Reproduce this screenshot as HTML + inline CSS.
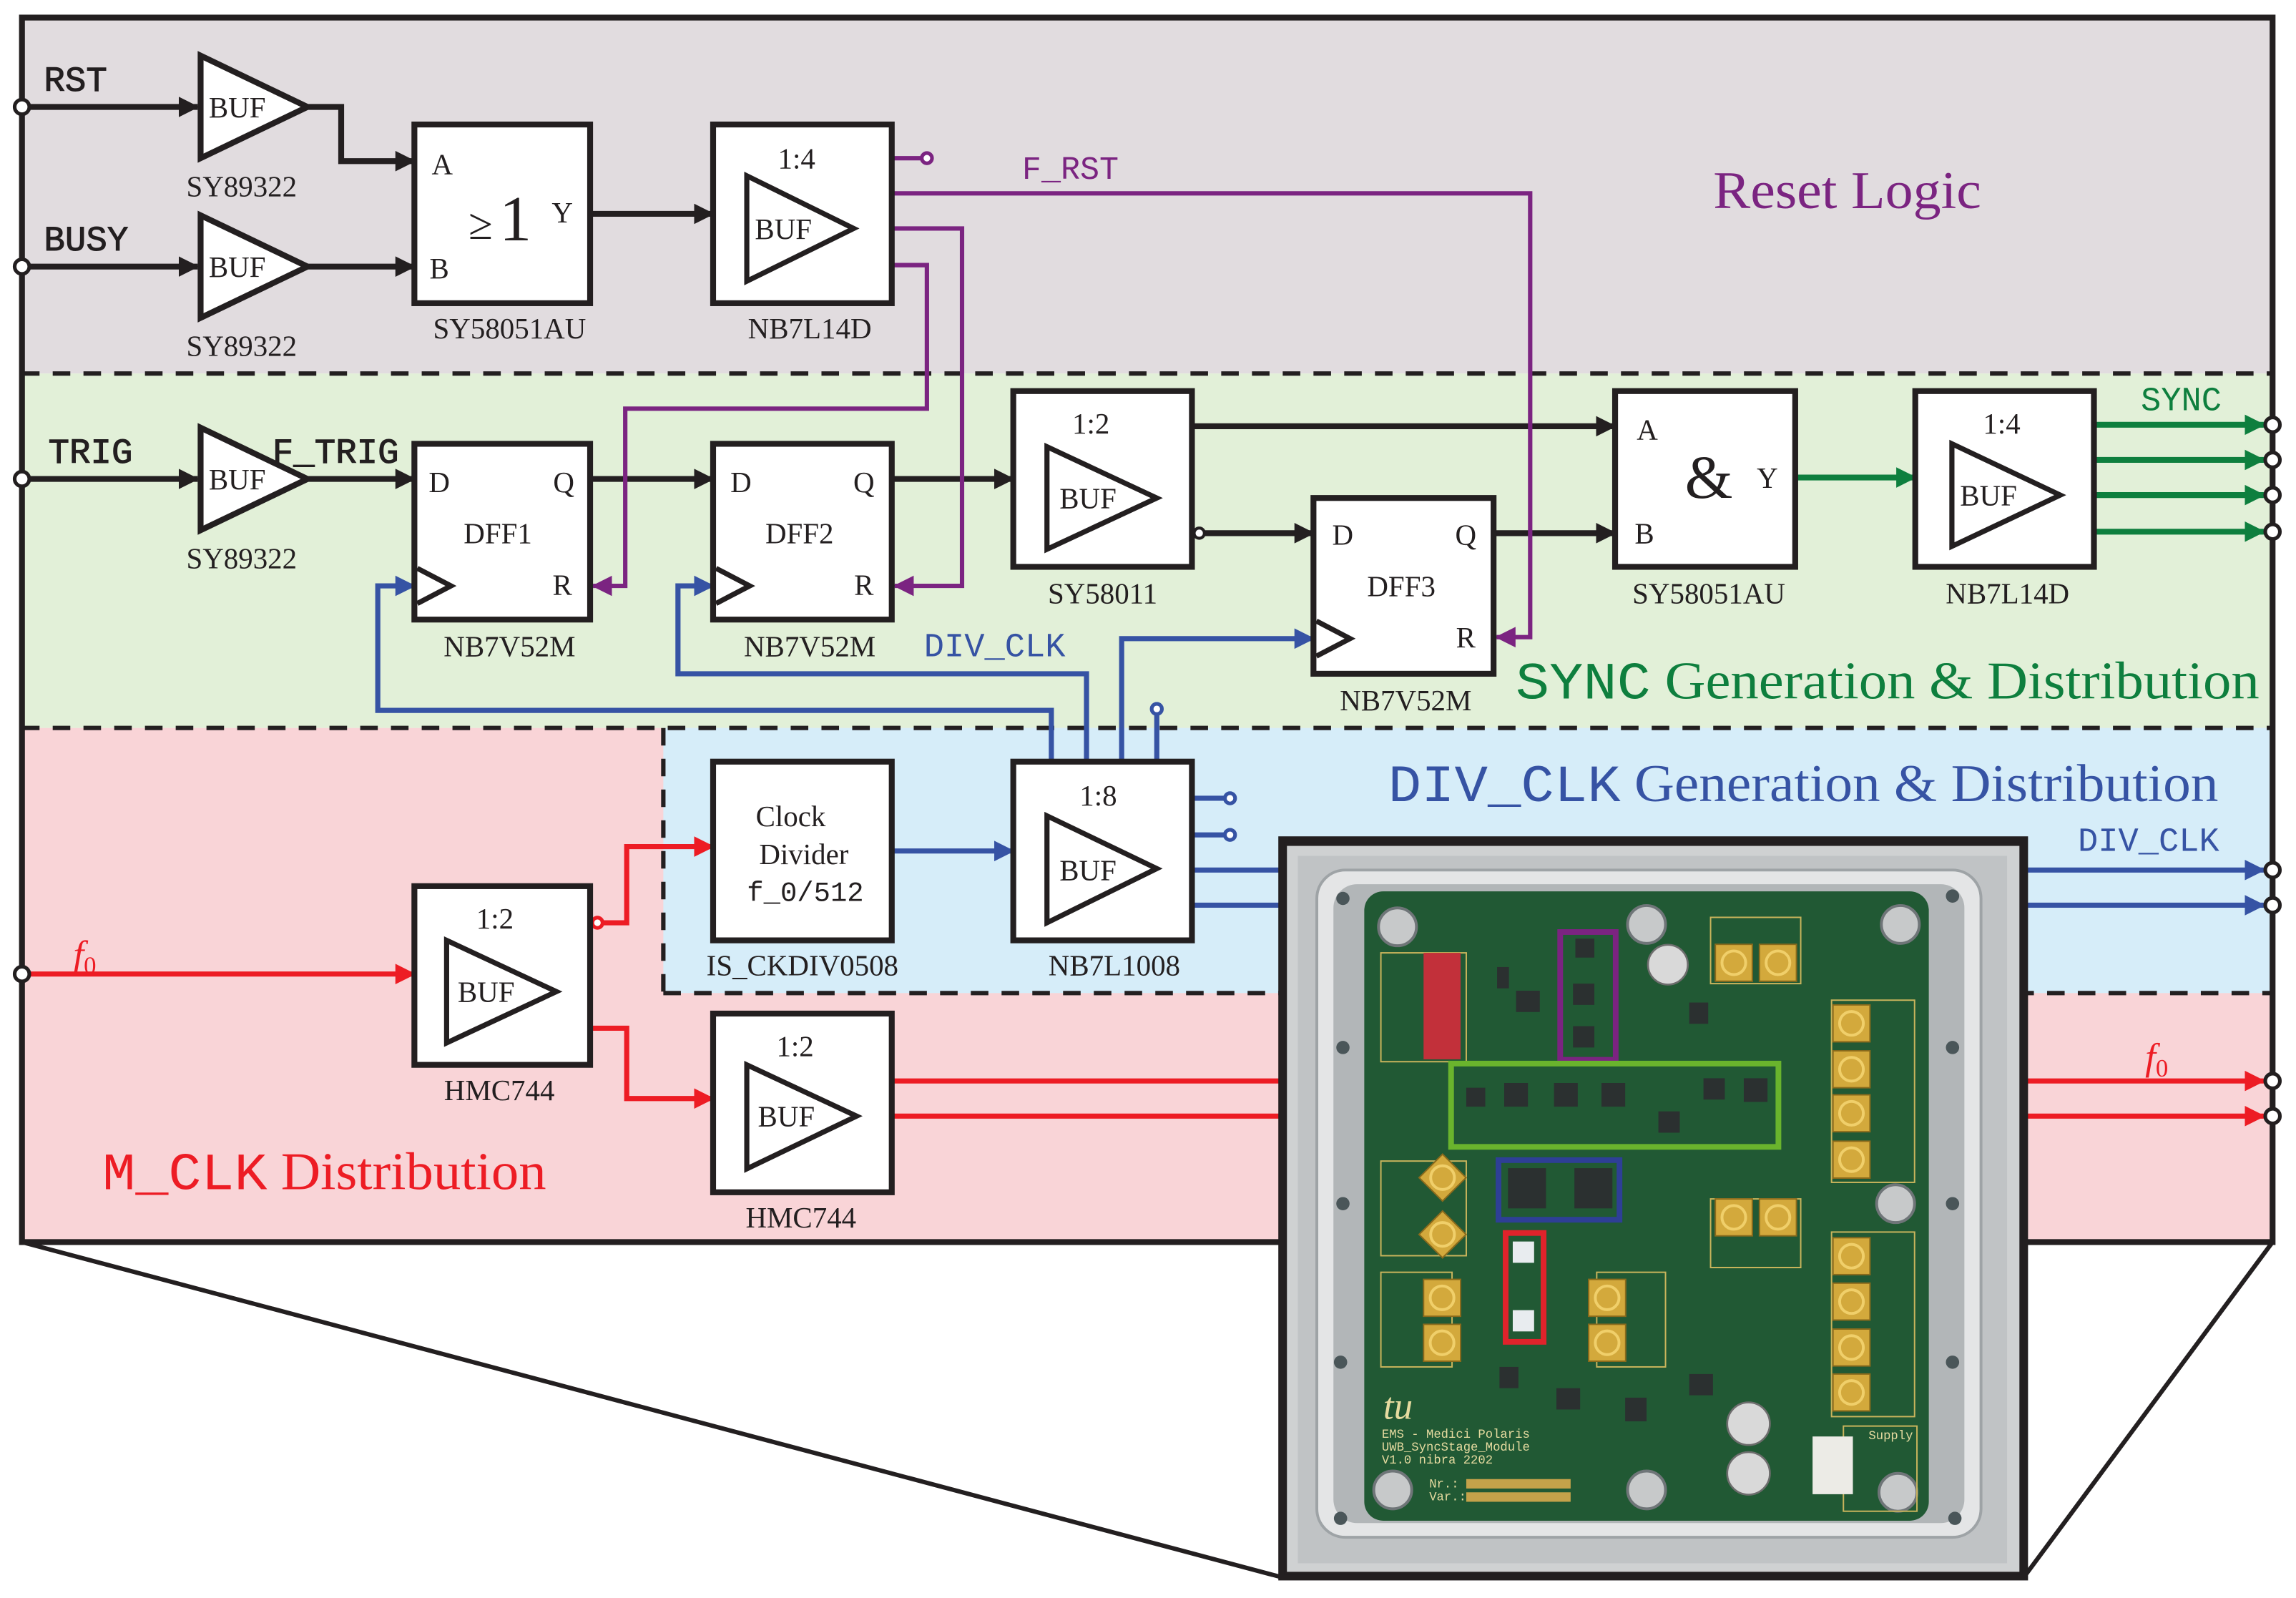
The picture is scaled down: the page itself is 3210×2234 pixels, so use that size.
<!DOCTYPE html>
<html><head><meta charset="utf-8"><style>
html,body{margin:0;padding:0;background:#fff;}
svg{display:block;}
.s{font-family:"Liberation Serif",serif;}
.m{font-family:"Liberation Mono",monospace;}
</style></head><body>
<svg width="3210" height="2234" viewBox="0 0 1568 1091" preserveAspectRatio="none" xmlns="http://www.w3.org/2000/svg">
<defs>
<marker id="ak" markerUnits="userSpaceOnUse" markerWidth="14" markerHeight="14" refX="13" refY="7" orient="auto"><path d="M0,0 L14,7 L0,14 z" fill="#231f20"/></marker>
<marker id="ap" markerUnits="userSpaceOnUse" markerWidth="14" markerHeight="14" refX="13" refY="7" orient="auto"><path d="M0,0 L14,7 L0,14 z" fill="#7b2481"/></marker>
<marker id="ag" markerUnits="userSpaceOnUse" markerWidth="14" markerHeight="14" refX="13" refY="7" orient="auto"><path d="M0,0 L14,7 L0,14 z" fill="#0e7f3e"/></marker>
<marker id="ab" markerUnits="userSpaceOnUse" markerWidth="14" markerHeight="14" refX="13" refY="7" orient="auto"><path d="M0,0 L14,7 L0,14 z" fill="#3653a4"/></marker>
<marker id="ar" markerUnits="userSpaceOnUse" markerWidth="14" markerHeight="14" refX="13" refY="7" orient="auto"><path d="M0,0 L14,7 L0,14 z" fill="#ed1c24"/></marker>
</defs>
<rect x="0" y="0" width="1568" height="1091" fill="#fff"/>
<rect x="15" y="12" width="1537" height="243" fill="#e1dcdf"/>
<rect x="15" y="255" width="1537" height="242" fill="#e2f0d8"/>
<rect x="15" y="497" width="1537" height="351" fill="#f9d4d7"/>
<rect x="453" y="497" width="1099" height="181" fill="#d6edf9"/>
<g stroke="#231f20" stroke-width="3" fill="none">
<line x1="15" y1="255" x2="1552" y2="255" stroke-dasharray="12,9"/>
<line x1="15" y1="497" x2="1552" y2="497" stroke-dasharray="12,9"/>
<line x1="453" y1="678" x2="1552" y2="678" stroke-dasharray="12,9"/>
<line x1="453" y1="497" x2="453" y2="678" stroke-dasharray="12,9"/>
<rect x="15" y="12" width="1537" height="836" stroke-width="4"/>
<line x1="15" y1="848" x2="876" y2="1077" stroke-width="3"/>
<line x1="1552" y1="848" x2="1382" y2="1077" stroke-width="3"/>
</g>

<text x="1170" y="142" class="s" font-size="36" fill="#7b2481" textLength="183" lengthAdjust="spacingAndGlyphs">Reset Logic</text>
<text x="1035" y="477" font-size="36" fill="#0e7f3e" textLength="508" lengthAdjust="spacingAndGlyphs"><tspan class="m">SYNC</tspan><tspan class="s"> Generation &amp; Distribution</tspan></text>
<text x="948" y="547" font-size="36" fill="#3653a4" textLength="567" lengthAdjust="spacingAndGlyphs"><tspan class="m">DIV_CLK</tspan><tspan class="s"> Generation &amp; Distribution</tspan></text>
<text x="70" y="812" font-size="36" fill="#ed1c24" textLength="303" lengthAdjust="spacingAndGlyphs"><tspan class="m">M_CLK</tspan><tspan class="s"> Distribution</tspan></text>

<g stroke="#231f20" stroke-width="4" fill="none">
<line x1="15" y1="73" x2="135" y2="73" marker-end="url(#ak)"/>
<line x1="15" y1="182" x2="135" y2="182" marker-end="url(#ak)"/>
<polyline points="210,73 233,73 233,110 283,110" marker-end="url(#ak)"/>
<line x1="210" y1="182" x2="283" y2="182" marker-end="url(#ak)"/>
<line x1="403" y1="146" x2="487" y2="146" marker-end="url(#ak)"/>
<line x1="15" y1="327" x2="135" y2="327" marker-end="url(#ak)"/>
<line x1="210" y1="327" x2="283" y2="327" marker-end="url(#ak)"/>
<line x1="403" y1="327" x2="487" y2="327" marker-end="url(#ak)"/>
<line x1="609" y1="327" x2="692" y2="327" marker-end="url(#ak)"/>
<line x1="814" y1="291" x2="1103" y2="291" marker-end="url(#ak)"/>
<line x1="822" y1="364" x2="897" y2="364" marker-end="url(#ak)"/>
<line x1="1020" y1="364" x2="1103" y2="364" marker-end="url(#ak)"/>
</g>
<circle cx="819" cy="364" r="3.5" fill="#fff" stroke="#231f20" stroke-width="2"/>

<g stroke="#7b2481" stroke-width="3" fill="none">
<line x1="609" y1="108" x2="630" y2="108"/>
<polyline points="609,132 1045,132 1045,435 1022,435" marker-end="url(#ap)"/>
<polyline points="609,156 657,156 657,400 611,400" marker-end="url(#ap)"/>
<polyline points="609,181 633,181 633,279 427,279 427,400 405,400" marker-end="url(#ap)"/>
</g>
<circle cx="633" cy="108" r="3.5" fill="#fff" stroke="#7b2481" stroke-width="2.5"/>
<text x="698" y="122" class="m" font-size="22" fill="#7b2481">F_RST</text>

<g stroke="#0e7f3e" stroke-width="4" fill="none">
<line x1="1226" y1="326" x2="1308" y2="326" marker-end="url(#ag)"/>
<line x1="1430" y1="290" x2="1546" y2="290" marker-end="url(#ag)"/>
<line x1="1430" y1="314" x2="1546" y2="314" marker-end="url(#ag)"/>
<line x1="1430" y1="338" x2="1546" y2="338" marker-end="url(#ag)"/>
<line x1="1430" y1="363" x2="1546" y2="363" marker-end="url(#ag)"/>
</g>
<text x="1462" y="280" class="m" font-size="23" fill="#0e7f3e">SYNC</text>

<g stroke="#3653a4" stroke-width="3.5" fill="none">
<polyline points="718,520 718,485 258,485 258,400 283,400" marker-end="url(#ab)"/>
<polyline points="742,520 742,460 463,460 463,400 487,400" marker-end="url(#ab)"/>
<polyline points="766,520 766,436 897,436" marker-end="url(#ab)"/>
<line x1="790" y1="520" x2="790" y2="487"/>
<line x1="609" y1="581" x2="692" y2="581" marker-end="url(#ab)"/>
<line x1="814" y1="545" x2="837" y2="545"/>
<line x1="814" y1="570" x2="837" y2="570"/>
<line x1="814" y1="594" x2="876" y2="594"/>
<line x1="814" y1="618" x2="876" y2="618"/>
<line x1="1383" y1="594" x2="1546" y2="594" marker-end="url(#ab)"/>
<line x1="1383" y1="618" x2="1546" y2="618" marker-end="url(#ab)"/>
</g>
<circle cx="790" cy="484" r="3.5" fill="#fff" stroke="#3653a4" stroke-width="2.5"/>
<circle cx="840" cy="545" r="3.5" fill="#fff" stroke="#3653a4" stroke-width="2.5"/>
<circle cx="840" cy="570" r="3.5" fill="#fff" stroke="#3653a4" stroke-width="2.5"/>
<text x="631" y="448" class="m" font-size="23" fill="#3653a4">DIV_CLK</text>
<text x="1419" y="581" class="m" font-size="23" fill="#3653a4">DIV_CLK</text>

<g stroke="#ed1c24" stroke-width="3.5" fill="none">
<line x1="15" y1="665" x2="283" y2="665" marker-end="url(#ar)"/>
<polyline points="411,630 428,630 428,578 487,578" marker-end="url(#ar)"/>
<polyline points="403,702 428,702 428,750 487,750" marker-end="url(#ar)"/>
<line x1="609" y1="738" x2="876" y2="738"/>
<line x1="609" y1="762" x2="876" y2="762"/>
<line x1="1383" y1="738" x2="1546" y2="738" marker-end="url(#ar)"/>
<line x1="1383" y1="762" x2="1546" y2="762" marker-end="url(#ar)"/>
</g>
<circle cx="408" cy="630" r="3.5" fill="#fff" stroke="#ed1c24" stroke-width="2.5"/>
<text x="50" y="660" class="s" font-size="26" font-style="italic" fill="#ed1c24">f<tspan font-size="17" dy="5" font-style="normal">0</tspan></text>
<text x="1465" y="730" class="s" font-size="26" font-style="italic" fill="#ed1c24">f<tspan font-size="17" dy="5" font-style="normal">0</tspan></text>

<g fill="#fff" stroke="#231f20" stroke-width="2.5">
<circle cx="15" cy="73" r="5"/><circle cx="15" cy="182" r="5"/><circle cx="15" cy="327" r="5"/><circle cx="15" cy="665" r="5"/>
<circle cx="1552" cy="290" r="5"/><circle cx="1552" cy="314" r="5"/><circle cx="1552" cy="338" r="5"/><circle cx="1552" cy="363" r="5"/>
<circle cx="1552" cy="594" r="5"/><circle cx="1552" cy="618" r="5"/><circle cx="1552" cy="738" r="5"/><circle cx="1552" cy="762" r="5"/>
</g>

<g class="m" font-size="24" fill="#231f20" stroke="#231f20" stroke-width="0.5">
<text x="30" y="62">RST</text>
<text x="30" y="171">BUSY</text>
<text x="33" y="316">TRIG</text>
<text x="186" y="316">F_TRIG</text>
</g>

<g stroke="#231f20" stroke-width="4" fill="#fff" stroke-linejoin="miter">
<polygon points="137,38 137,108 210,73"/>
<polygon points="137,147 137,217 210,182"/>
<polygon points="137,292 137,362 210,327"/>
<rect x="283" y="85" width="120" height="122"/>
<rect x="487" y="85" width="122" height="122"/>
<rect x="283" y="303" width="120" height="120"/>
<rect x="487" y="303" width="122" height="120"/>
<rect x="692" y="267" width="122" height="120"/>
<rect x="897" y="340" width="123" height="120"/>
<rect x="1103" y="267" width="123" height="120"/>
<rect x="1308" y="267" width="122" height="120"/>
<rect x="487" y="520" width="122" height="122"/>
<rect x="692" y="520" width="122" height="122"/>
<rect x="283" y="605" width="120" height="122"/>
<rect x="487" y="692" width="122" height="122"/>
</g>
<g stroke="#231f20" stroke-width="3.5" fill="none">
<polygon points="510,120 510,192 583,156"/>
<polygon points="715,305 715,375 790,340"/>
<polygon points="1333,303 1333,373 1407,338"/>
<polygon points="715,557 715,630 790,593"/>
<polygon points="305,642 305,712 380,677"/>
<polygon points="510,727 510,798 585,762"/>
<polyline points="285,388 308,400 285,412"/>
<polyline points="489,388 512,400 489,412"/>
<polyline points="899,424 922,436 899,448"/>
</g>

<g class="s" font-size="20" fill="#231f20" text-anchor="middle">
<text x="162" y="80">BUF</text><text x="162" y="189">BUF</text><text x="162" y="334">BUF</text>
<text x="535" y="163">BUF</text><text x="743" y="347">BUF</text><text x="1358" y="345">BUF</text>
<text x="743" y="601">BUF</text><text x="332" y="684">BUF</text><text x="537" y="769">BUF</text>
<text x="544" y="115">1:4</text><text x="745" y="296">1:2</text><text x="1367" y="296">1:4</text>
<text x="750" y="550">1:8</text><text x="338" y="634">1:2</text><text x="543" y="721">1:2</text>
<text x="302" y="119">A</text><text x="300" y="190">B</text><text x="384" y="152">Y</text>
<text x="1125" y="300">A</text><text x="1123" y="371">B</text><text x="1207" y="333">Y</text>
<text x="300" y="336">D</text><text x="385" y="336">Q</text><text x="340" y="371">DFF1</text><text x="384" y="406">R</text>
<text x="506" y="336">D</text><text x="590" y="336">Q</text><text x="546" y="371">DFF2</text><text x="590" y="406">R</text>
<text x="917" y="372">D</text><text x="1001" y="372">Q</text><text x="957" y="407">DFF3</text><text x="1001" y="442">R</text>
<text x="540" y="564">Clock</text><text x="549" y="590">Divider</text>
<text x="165" y="134">SY89322</text><text x="165" y="243">SY89322</text><text x="165" y="388">SY89322</text>
<text x="348" y="231">SY58051AU</text><text x="553" y="231">NB7L14D</text>
<text x="348" y="448">NB7V52M</text><text x="553" y="448">NB7V52M</text>
<text x="753" y="412">SY58011</text><text x="960" y="485">NB7V52M</text>
<text x="1167" y="412">SY58051AU</text><text x="1371" y="412">NB7L14D</text>
<text x="548" y="666">IS_CKDIV0508</text><text x="761" y="666">NB7L1008</text>
<text x="341" y="751">HMC744</text><text x="547" y="838">HMC744</text>
</g>
<text x="550" y="615" class="m" font-size="19" fill="#231f20" text-anchor="middle">f_0/512</text>
<text x="320" y="163" class="s" font-size="30" fill="#231f20">≥</text>
<text x="341" y="164" class="s" font-size="44" fill="#231f20">1</text>
<text x="1167" y="340" class="s" font-size="42" fill="#231f20" text-anchor="middle">&amp;</text>

<!-- photo -->
<rect x="875" y="573" width="508" height="504" fill="#231f20"/>
<svg x="875" y="573" width="508" height="504" viewBox="0 0 1568 1560" preserveAspectRatio="none">
<rect x="12" y="14" width="1544" height="1534" fill="#cfd1d2"/>
<rect x="35" y="35" width="1495" height="1495" fill="#c0c3c5"/>
<rect x="75" y="65" width="1400" height="1410" rx="60" fill="#e4e5e6" stroke="#9ea3a6" stroke-width="6"/>
<rect x="110" y="95" width="1330" height="1350" rx="50" fill="#b2b6b8"/>
<rect x="175" y="110" width="1190" height="1330" rx="40" fill="#215934"/>
<g fill="#4a5659">
<circle cx="130" cy="125" r="14"/><circle cx="130" cy="440" r="14"/><circle cx="130" cy="770" r="14"/><circle cx="125" cy="1105" r="14"/><circle cx="125" cy="1435" r="14"/>
<circle cx="1415" cy="120" r="14"/><circle cx="1415" cy="440" r="14"/><circle cx="1415" cy="770" r="14"/><circle cx="1415" cy="1105" r="14"/><circle cx="1420" cy="1435" r="14"/>
</g>
<g fill="#c7c9ca" stroke="#6f7578" stroke-width="6">
<circle cx="245" cy="185" r="40"/><circle cx="770" cy="180" r="40"/><circle cx="1305" cy="180" r="40"/><circle cx="1295" cy="770" r="40"/>
<circle cx="235" cy="1375" r="40"/><circle cx="770" cy="1375" r="40"/><circle cx="1300" cy="1380" r="40"/>
</g>
<g fill="none" stroke="#c9b45c" stroke-width="3">
<rect x="210" y="240" width="180" height="230"/><rect x="210" y="680" width="180" height="200"/><rect x="210" y="915" width="150" height="200"/>
<rect x="905" y="165" width="190" height="140"/><rect x="905" y="760" width="190" height="145"/>
<rect x="1160" y="340" width="175" height="385"/><rect x="1160" y="830" width="175" height="390"/>
<rect x="665" y="915" width="145" height="200"/><rect x="1185" y="1240" width="155" height="180"/>
</g>
<rect x="300" y="240" width="78" height="225" fill="#c2303a"/>
<g fill="#d3a93c" stroke="#8a6a1c" stroke-width="3">
<rect x="915" y="222" width="78" height="78"/><rect x="1008" y="222" width="78" height="78"/>
<rect x="1163" y="350" width="78" height="78"/><rect x="1163" y="447" width="78" height="78"/><rect x="1163" y="540" width="78" height="78"/><rect x="1163" y="638" width="78" height="78"/>
<rect x="915" y="760" width="78" height="78"/><rect x="1008" y="760" width="78" height="78"/>
<rect x="1163" y="842" width="78" height="78"/><rect x="1163" y="938" width="78" height="78"/><rect x="1163" y="1035" width="78" height="78"/><rect x="1163" y="1130" width="78" height="78"/>
<rect x="300" y="930" width="78" height="78"/><rect x="300" y="1025" width="78" height="78"/>
<rect x="648" y="930" width="78" height="78"/><rect x="648" y="1025" width="78" height="78"/>
<rect x="305" y="680" width="70" height="70" transform="rotate(45 340 715)"/><rect x="305" y="800" width="70" height="70" transform="rotate(45 340 835)"/>
</g>
<g fill="none" stroke="#f0cf6a" stroke-width="6">
<circle cx="954" cy="261" r="25"/><circle cx="1047" cy="261" r="25"/>
<circle cx="1202" cy="389" r="25"/><circle cx="1202" cy="486" r="25"/><circle cx="1202" cy="579" r="25"/><circle cx="1202" cy="677" r="25"/>
<circle cx="954" cy="799" r="25"/><circle cx="1047" cy="799" r="25"/>
<circle cx="1202" cy="881" r="25"/><circle cx="1202" cy="977" r="25"/><circle cx="1202" cy="1074" r="25"/><circle cx="1202" cy="1169" r="25"/>
<circle cx="339" cy="969" r="25"/><circle cx="339" cy="1064" r="25"/><circle cx="687" cy="969" r="25"/><circle cx="687" cy="1064" r="25"/>
<circle cx="340" cy="715" r="25"/><circle cx="340" cy="835" r="25"/>
</g>
<g fill="#2b3030">
<rect x="620" y="210" width="40" height="40"/><rect x="615" y="305" width="45" height="45"/><rect x="615" y="395" width="45" height="45"/>
<rect x="495" y="320" width="50" height="45"/><rect x="455" y="270" width="25" height="45"/><rect x="860" y="345" width="40" height="45"/>
<rect x="390" y="525" width="40" height="40"/><rect x="470" y="515" width="50" height="50"/><rect x="575" y="515" width="50" height="50"/>
<rect x="675" y="515" width="50" height="50"/><rect x="890" y="505" width="45" height="45"/><rect x="975" y="505" width="50" height="50"/><rect x="795" y="575" width="45" height="45"/>
<rect x="478" y="695" width="80" height="85"/><rect x="618" y="695" width="80" height="85"/>
<rect x="580" y="1160" width="50" height="45"/><rect x="725" y="1180" width="45" height="50"/><rect x="860" y="1130" width="50" height="45"/><rect x="460" y="1115" width="40" height="45"/>
</g>
<rect x="488" y="850" width="45" height="45" fill="#e8ecef"/><rect x="488" y="995" width="45" height="45" fill="#e8ecef"/>
<g fill="#d9d9d9" stroke="#6d6d6d" stroke-width="4">
<circle cx="815" cy="265" r="42"/><circle cx="985" cy="1235" r="45"/><circle cx="985" cy="1340" r="45"/>
</g>
<rect x="1120" y="1262" width="85" height="122" fill="#ecebe6"/>
<rect x="390" y="1352" width="220" height="20" fill="#c4a24a"/><rect x="390" y="1380" width="220" height="20" fill="#c4a24a"/>
<g fill="none" stroke-width="12">
<rect x="588" y="196" width="117" height="270" stroke="#7b2481"/>
<rect x="358" y="474" width="690" height="176" stroke="#6ab42d"/>
<rect x="458" y="678" width="255" height="126" stroke="#2e3f96"/>
<rect x="473" y="832" width="80" height="230" stroke="#e0232b"/>
</g>
<g font-family="Liberation Mono, monospace" font-size="26" fill="#e6dba0">
<text x="212" y="1265">EMS - Medici Polaris</text>
<text x="212" y="1292">UWB_SyncStage_Module</text>
<text x="212" y="1319">V1.0      nibra 2202</text>
<text x="312" y="1370">Nr.:</text><text x="312" y="1397">Var.:</text>
<text x="1238" y="1268">Supply</text>
</g>
<text x="215" y="1225" font-family="Liberation Serif, serif" font-style="italic" font-size="80" fill="#e6dba0">tu</text>
</svg>
<rect x="875" y="573" width="508" height="504" fill="none" stroke="#231f20" stroke-width="4"/>
</svg>
</body></html>
